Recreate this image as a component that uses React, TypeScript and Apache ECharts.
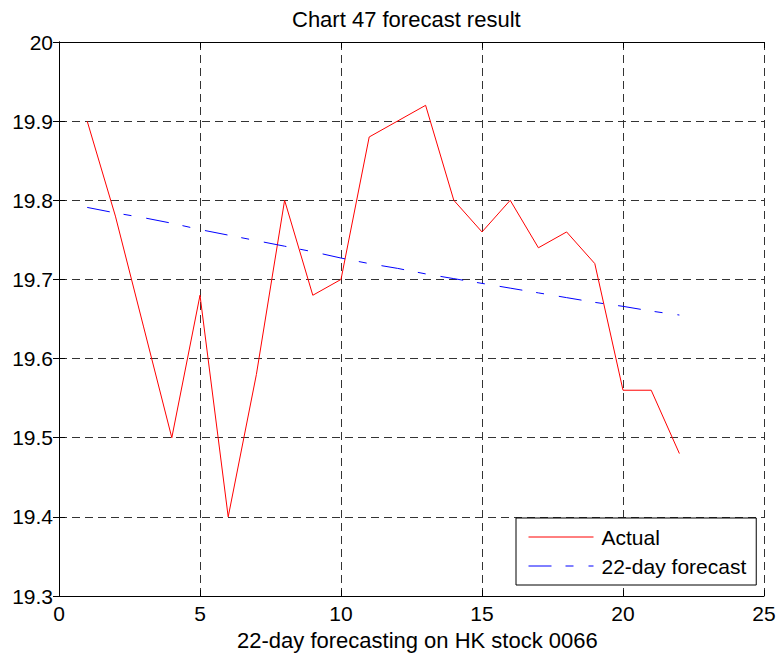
import React, { useEffect, useRef } from "react";
import * as echarts from "echarts";

// Trading days on the horizontal axis
const days = [1, 2, 3, 4, 5, 6, 7, 8, 9, 10, 11, 12, 13, 14, 15, 16, 17, 18, 19, 20, 21, 22];

// Closing prices actually observed
const actual = [
  19.9, 19.78, 19.64, 19.5, 19.68, 19.4, 19.58, 19.8, 19.68, 19.7, 19.88,
  19.9, 19.92, 19.8, 19.76, 19.8, 19.74, 19.76, 19.72, 19.56, 19.56, 19.48,
];

// Model output for the same 22 days
const forecast = [
  19.791, 19.784, 19.778, 19.771, 19.763, 19.756, 19.749, 19.742, 19.735,
  19.727, 19.72, 19.714, 19.707, 19.701, 19.695, 19.689, 19.683, 19.677,
  19.671, 19.666, 19.66, 19.655,
];

const seriesNames = ["Actual", "22-day forecast"];
const titleText = "Chart 47 forecast result";
const xLabelText = "22-day forecasting on HK stock 0066";

const FONT = "'Liberation Sans', Arial, sans-serif";

export default function App() {
  const ref = useRef<HTMLDivElement>(null);

  useEffect(() => {
    if (!ref.current) return;
    const chart = echarts.init(ref.current, undefined, { renderer: "svg" });

    const gridDash = { type: [8, 5] as number[], color: "#333", width: 1 };
    const frameLine = { show: true, lineStyle: { color: "#000", width: 1 } };
    const innerTick = { show: true, inside: true, length: 6, lineStyle: { color: "#000" } };

    chart.setOption({
      animation: false,
      backgroundColor: "#fff",
      textStyle: { fontFamily: FONT },
      title: {
        text: titleText,
        left: 292,
        top: 8,
        padding: 0,
        textStyle: { fontFamily: FONT, fontSize: 22, fontWeight: "normal", color: "#000" },
      },
      grid: { left: 59, top: 42, width: 705, height: 554, containLabel: false },
      legend: {
        orient: "vertical",
        left: 516,
        top: 518,
        padding: [7, 10, 7, 12],
        itemGap: 5,
        itemWidth: 65,
        itemHeight: 14,
        backgroundColor: "#fff",
        borderColor: "#000",
        borderWidth: 1,
        borderRadius: 0,
        data: seriesNames,
        // line-only keys, no marker dot
        itemStyle: { opacity: 0 },
        lineStyle: { width: 1 },
        textStyle: {
          fontFamily: FONT,
          fontSize: 21,
          color: "#000",
          lineHeight: 24,
          padding: [0, 0, 0, 3],
        },
      },
      graphic: [
        {
          type: "text",
          left: 237,
          top: 629,
          style: { text: xLabelText, font: `22px ${FONT}`, fill: "#000" },
        },
      ],
      xAxis: [
        {
          type: "value",
          min: 0,
          max: 25,
          interval: 5,
          position: "bottom",
          axisLine: frameLine,
          axisTick: innerTick,
          axisLabel: { fontFamily: FONT, fontSize: 21, color: "#000", margin: 7 },
          splitLine: { show: true, lineStyle: gridDash },
        },
        {
          type: "value",
          min: 0,
          max: 25,
          interval: 5,
          position: "top",
          axisLine: frameLine,
          axisTick: innerTick,
          axisLabel: { show: false },
          splitLine: { show: false },
        },
      ],
      yAxis: [
        {
          type: "value",
          min: 19.3,
          max: 20,
          interval: 0.1,
          position: "left",
          axisLine: frameLine,
          axisTick: innerTick,
          axisLabel: {
            fontFamily: FONT,
            fontSize: 21,
            color: "#000",
            margin: 6,
            formatter: (v: number) => String(Number(v.toFixed(1))),
          },
          splitLine: { show: true, lineStyle: gridDash },
        },
        {
          type: "value",
          min: 19.3,
          max: 20,
          interval: 0.1,
          position: "right",
          axisLine: frameLine,
          axisTick: innerTick,
          axisLabel: { show: false },
          splitLine: { show: false },
        },
      ],
      series: [
        {
          name: seriesNames[0],
          type: "line",
          xAxisIndex: 0,
          yAxisIndex: 0,
          symbol: "none",
          data: days.map((d, i) => [d, actual[i]]),
          lineStyle: { color: "#ff0000", width: 1 },
          itemStyle: { color: "#ff0000" },
        },
        {
          name: seriesNames[1],
          type: "line",
          xAxisIndex: 0,
          yAxisIndex: 0,
          symbol: "none",
          data: days.map((d, i) => [d, forecast[i]]),
          lineStyle: { color: "#0000ff", width: 1, type: [23, 14, 8, 15] },
          itemStyle: { color: "#0000ff" },
        },
      ],
    });

    return () => chart.dispose();
  }, []);

  return (
    <div
      ref={ref}
      style={{ position: "fixed", left: 0, top: 0, width: 779, height: 657, background: "#fff" }}
    />
  );
}
